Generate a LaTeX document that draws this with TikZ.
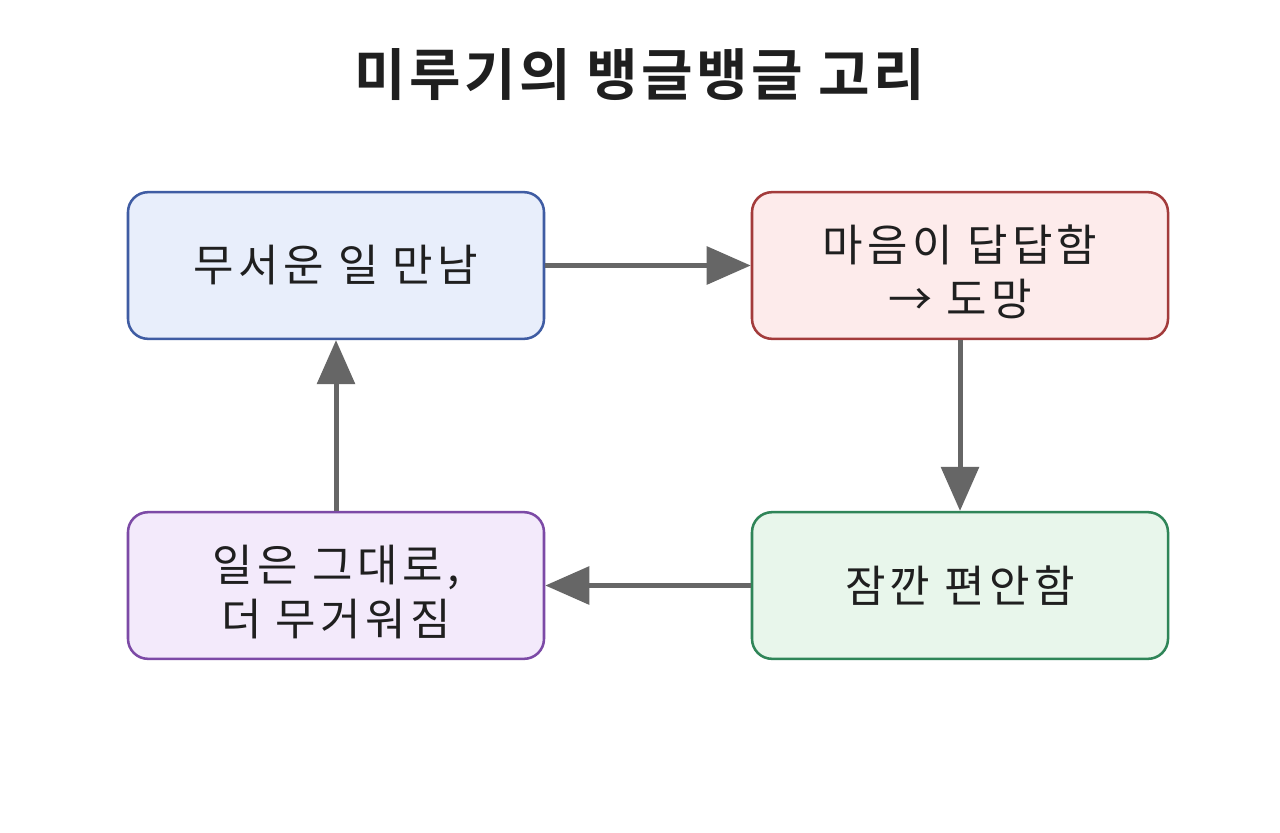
\documentclass[tikz,border=0pt]{standalone}
\usepackage{fontspec}
\setmainfont{Noto Sans CJK KR}
\newfontfamily\nodefont[LetterSpace=10]{Noto Sans CJK KR}
\newfontfamily\titlefont[LetterSpace=6]{Noto Sans CJK KR Bold}
\usetikzlibrary{arrows.meta}
\definecolor{bluefill}{HTML}{E8EEFB}
\definecolor{bluedraw}{HTML}{3F5CA3}
\definecolor{redfill}{HTML}{FDEBEB}
\definecolor{reddraw}{HTML}{A33B3B}
\definecolor{greenfill}{HTML}{E8F6EB}
\definecolor{greendraw}{HTML}{2F8558}
\definecolor{purplefill}{HTML}{F3EAFB}
\definecolor{purpledraw}{HTML}{7C4AA6}
\definecolor{arrowgray}{HTML}{666666}
\definecolor{textdark}{HTML}{1F1F1F}
\tikzset{
  box/.style={rounded corners=15pt, line width=1.9pt, minimum width=312pt, minimum height=110pt,
    inner sep=0pt, align=center, text=textdark, font=\nodefont\fontsize{33}{40.5}\selectfont},
  boxtext/.style={inner sep=0pt, align=center, text=textdark, font=\nodefont\fontsize{33}{40.5}\selectfont},
  conn/.style={draw=arrowgray, line width=3.75pt, -{Triangle[length=33pt,width=28pt]}, shorten >=0pt}
}
\begin{document}
\begin{tikzpicture}[x=0.75pt,y=-0.75pt]
\useasboundingbox (0,0) rectangle (1280,832);
\fill[white] (0,0) rectangle (1280,832);
\node[font=\titlefont\fontsize{42}{50}\selectfont, text=textdark] (title) at (640,75) {미루기의 뱅글뱅글 고리};
\node[box, fill=bluefill, draw=bluedraw] (a) at (336,265.5) {무서운 일 만남};
\node[box, fill=redfill, draw=reddraw] (b) at (960,265.5) {};
\node[boxtext] (btext) at (960,272) {마음이 답답함\\→ 도망};
\node[box, fill=greenfill, draw=greendraw] (c) at (960,585.5) {잠깐 편안함};
\node[box, fill=purplefill, draw=purpledraw] (d) at (336,585.5) {};
\node[boxtext] (dtext) at (336,592) {일은 그대로,\\더 무거워짐};
\draw[conn] (a) -- (b);
\draw[conn] (b) -- (c);
\draw[conn] (c) -- (d);
\draw[conn] (d) -- (a);
\end{tikzpicture}
\end{document}
